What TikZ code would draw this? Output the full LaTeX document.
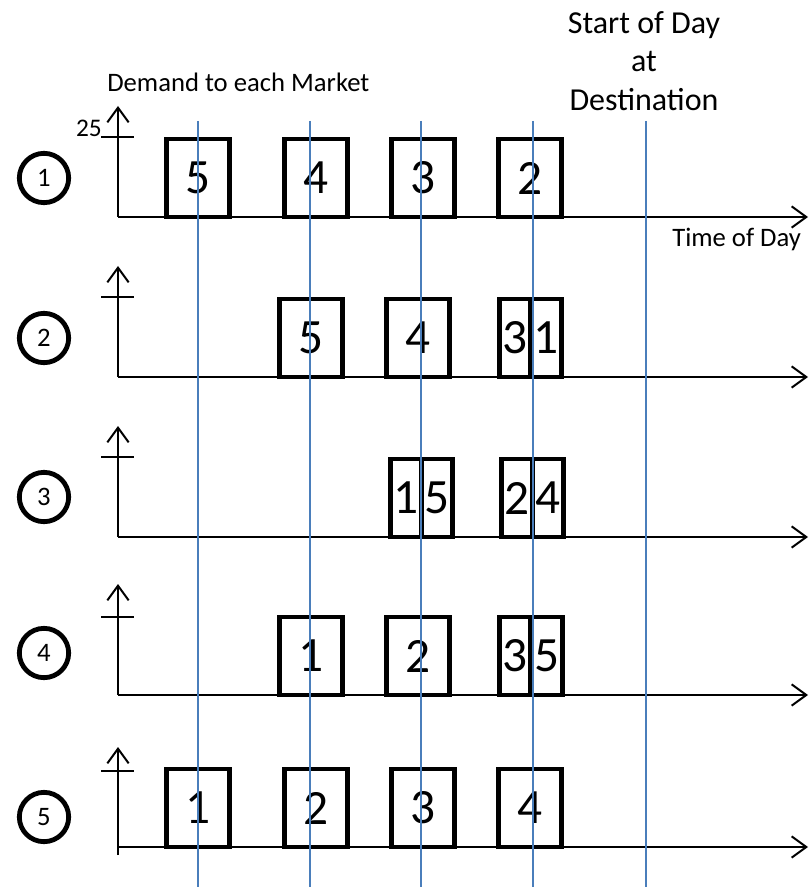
\documentclass[tikz,border=0pt]{standalone}
\usepackage{fontspec}
\setmainfont{Carlito}
\usetikzlibrary{arrows.meta}
\usetikzlibrary{positioning}
\definecolor{dayblue}{RGB}{74,126,187}

\begin{document}
\begin{tikzpicture}[
		x=0.75pt, y=-0.75pt,
		market/.style={circle, draw, line width=3.6pt, minimum size=37pt, inner sep=0pt, font=\fontsize{20}{22}\selectfont},
		load/.style={rectangle, draw, line width=3.5pt, minimum width=47pt, minimum height=58.5pt, inner sep=0pt, font=\fontsize{37}{42}\selectfont},
		halfload/.style={load, minimum width=23.25pt},
		axis/.style={line width=1.5pt, -{Straight Barb[length=11pt,width=16pt]}},
		tick/.style={line width=1.5pt},
		dayline/.style={dayblue, line width=1.1pt},
		caption/.style={inner sep=0pt, font=\fontsize{20}{24}\selectfont}
	]
	\useasboundingbox (0,0) rectangle (812,887);

	% --- Labels ---
	\node[caption, anchor=base west] (demand) at (107,92) {Demand to each Market};
	\node[caption, anchor=base west] (time) at (672,247) {Time of Day};
	\node[inner sep=0pt, anchor=north, align=center, font=\fontsize{24}{29}\selectfont] (start) at (644,11) {Start of Day\\at\\Destination};
	\node[inner sep=0pt, anchor=base east, font=\fontsize{19}{22}\selectfont] (top) at (102,137) {25};

	% --- Market 1 ---
	\coordinate (o1) at (118,217);
	\coordinate (y1) at (118,106);
	\coordinate (x1) at (808,217);
	\coordinate (ta1) at (101,137);
	\coordinate (tb1) at (134,137);
	\draw[axis] (o1) -- (y1);
	\draw[axis] (o1) -- (x1);
	\draw[tick] (ta1) -- (tb1);
	\node[market] (m1) at (44,178) {1};
	\node[load] (a1) at (198,178) {5};
	\node[load] (a2) at (316,178) {4};
	\node[load] (a3) at (423,178) {3};
	\node[load] (a4) at (530,178) {2};

	% --- Market 2 ---
	\coordinate (o2) at (118,377);
	\coordinate (y2) at (118,266);
	\coordinate (x2) at (808,377);
	\coordinate (ta2) at (101,297);
	\coordinate (tb2) at (134,297);
	\draw[axis] (o2) -- (y2);
	\draw[axis] (o2) -- (x2);
	\draw[tick] (ta2) -- (tb2);
	\node[market] (m2) at (44,338) {2};
	\node[load] (b1) at (311,338) {5};
	\node[load] (b2) at (418,338) {4};
	\node[halfload] (b3) at (515,338) {3};
	\node[halfload] (b4) at (546,338) {1};

	% --- Market 3 ---
	\coordinate (o3) at (118,537);
	\coordinate (y3) at (118,426);
	\coordinate (x3) at (808,537);
	\coordinate (ta3) at (101,457);
	\coordinate (tb3) at (134,457);
	\draw[axis] (o3) -- (y3);
	\draw[axis] (o3) -- (x3);
	\draw[tick] (ta3) -- (tb3);
	\node[market] (m3) at (44,497) {3};
	\node[halfload] (c1) at (406,498) {1};
	\node[halfload] (c2) at (437,498) {5};
	\node[halfload] (c3) at (517,498) {2};
	\node[halfload] (c4) at (548,498) {4};

	% --- Market 4 ---
	\coordinate (o4) at (118,695);
	\coordinate (y4) at (118,584);
	\coordinate (x4) at (808,695);
	\coordinate (ta4) at (101,617);
	\coordinate (tb4) at (134,617);
	\draw[axis] (o4) -- (y4);
	\draw[axis] (o4) -- (x4);
	\draw[tick] (ta4) -- (tb4);
	\node[market] (m4) at (44,653) {4};
	\node[load] (d1) at (311,656) {1};
	\node[load] (d2) at (418,656) {2};
	\node[halfload] (d3) at (515,656) {3};
	\node[halfload] (d4) at (547,656) {5};

	% --- Market 5 ---
	\coordinate (o5) at (118,855);
	\coordinate (h5) at (118,847);
	\coordinate (y5) at (118,747);
	\coordinate (x5) at (808,847);
	\coordinate (ta5) at (101,771);
	\coordinate (tb5) at (134,771);
	\draw[axis] (o5) -- (y5);
	\draw[axis] (h5) -- (x5);
	\draw[tick] (ta5) -- (tb5);
	\node[market] (m5) at (44,817) {5};
	\node[load] (e1) at (198,808) {1};
	\node[load] (e2) at (316,808) {2};
	\node[load] (e3) at (423,808) {3};
	\node[load] (e4) at (530,808) {4};

	% --- Day boundaries, drawn over the loads ---
	\coordinate (s1) at (198,121);  \coordinate (f1) at (198,887);
	\coordinate (s2) at (310,121);  \coordinate (f2) at (310,887);
	\coordinate (s3) at (421,121);  \coordinate (f3) at (421,887);
	\coordinate (s4) at (533,121);  \coordinate (f4) at (533,887);
	\coordinate (s5) at (646,121);  \coordinate (f5) at (646,887);
	\draw[dayline] (s1) -- (f1);
	\draw[dayline] (s2) -- (f2);
	\draw[dayline] (s3) -- (f3);
	\draw[dayline] (s4) -- (f4);
	\draw[dayline] (s5) -- (f5);

\end{tikzpicture}
\end{document}
